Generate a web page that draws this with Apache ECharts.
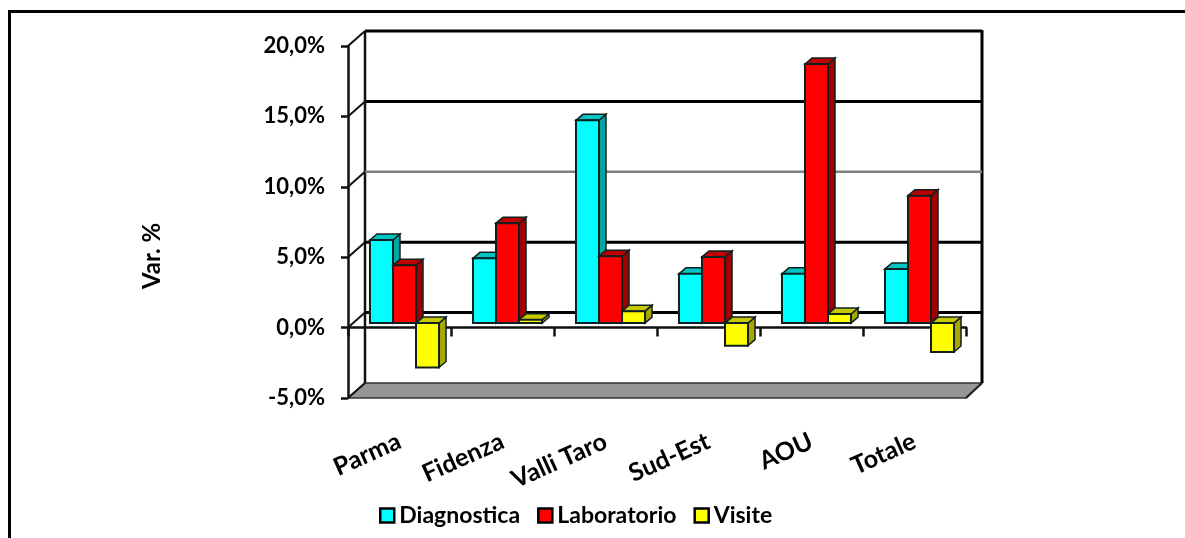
<!DOCTYPE html>
<html>
<head>
<meta charset="utf-8">
<script src="https://cdn.jsdelivr.net/npm/echarts@6/dist/echarts.min.js"></script>
<style>html,body{margin:0;padding:0;background:#fff}#c{width:1185px;height:538px}</style>
</head>
<body>
<div id="c"></div>
<script>
var categories = ['Parma', 'Fidenza', 'Valli Taro', 'Sud-Est', 'AOU', 'Totale'];
var diagnostica = [5.9, 4.6, 14.4, 3.5, 3.5, 3.85];
var laboratorio = [4.1, 7.1, 4.75, 4.7, 18.4, 9.05];
var visite = [-3.15, 0.23, 0.85, -1.6, 0.65, -2.05];
var tickValues = [-5, 0, 5, 10, 15, 20];
var axisName = 'Var. %';

var FONT = 'Lato';
var DEPTH_X = 17, DEPTH_Y = -15;      // wall depth
var PLANE_X = 5, PLANE_Y = -4.5;      // plane of the bars inside the depth
var BAR_DX = 7, BAR_DY = -6;          // bar depth
var BAR_SHARE = 0.2235;

function wallItem(params, api) {
  var v = api.value(1);
  var cs = params.coordSys;
  var left = cs.x, right = cs.x + cs.width;
  var y = api.coord([0, v])[1];
  var kids = [];
  var lineStyle = function (c, w) { return { stroke: c, lineWidth: w, fill: null }; };
  if (v === -5) {
    kids.push({ type: 'polygon', shape: { points: [[left, y], [right, y], [right + DEPTH_X - 1, y + DEPTH_Y], [left + DEPTH_X, y + DEPTH_Y]] },
      style: { fill: '#969696', stroke: '#333', lineWidth: 1.5 } });
    kids.push({ type: 'line', shape: { x1: left + DEPTH_X, y1: y + DEPTH_Y, x2: left + DEPTH_X, y2: cs.y + DEPTH_Y }, style: lineStyle('#111', 2.5) });
    kids.push({ type: 'line', shape: { x1: right + DEPTH_X - 1, y1: y + DEPTH_Y, x2: right + DEPTH_X - 1, y2: cs.y + DEPTH_Y - 1 }, style: lineStyle('#000', 3) });
    kids.push({ type: 'line', shape: { x1: right, y1: y, x2: right + DEPTH_X - 1, y2: y + DEPTH_Y }, style: lineStyle('#222', 2) });
  } else {
    var c = v === 10 ? '#808080' : '#000';
    kids.push({ type: 'line', shape: { x1: left + DEPTH_X, y1: y + DEPTH_Y, x2: right + DEPTH_X - 1, y2: y + DEPTH_Y }, style: lineStyle(c, v === 10 ? 2.5 : 3) });
  }
  kids.push({ type: 'line', shape: { x1: left, y1: y, x2: left + DEPTH_X, y2: y + DEPTH_Y }, style: lineStyle('#111', 2) });
  return { type: 'group', children: kids };
}

function barItem(slot, front, side, top) {
  return function (params, api) {
    var v = api.value(1);
    var c = api.coord([api.value(0), v]);
    var z = api.coord([api.value(0), 0]);
    var band = api.size([1, 0])[0];
    var w = band * BAR_SHARE;
    var x0 = c[0] + PLANE_X + (slot - 1.5) * w, x1 = x0 + w;
    var yT = Math.min(c[1], z[1]) + PLANE_Y, yB = Math.max(c[1], z[1]) + PLANE_Y;
    var st = function (f) { return { fill: f, stroke: '#102020', lineWidth: 1.5 }; };
    return { type: 'group', children: [
      { type: 'polygon', shape: { points: [[x1, yT], [x1 + BAR_DX, yT + BAR_DY], [x1 + BAR_DX, yB + BAR_DY], [x1, yB]] }, style: st(side) },
      { type: 'polygon', shape: { points: [[x0, yT], [x0 + BAR_DX, yT + BAR_DY], [x1 + BAR_DX, yT + BAR_DY], [x1, yT]] }, style: st(top) },
      { type: 'rect', shape: { x: x0, y: yT, width: w, height: yB - yT }, style: { fill: front, stroke: '#102020', lineWidth: 2 } }
    ] };
  };
}

function pairs(values) { return values.map(function (v, i) { return [i, v]; }); }

function barSeries(name, values, slot, front, side, top) {
  return { name: name, type: 'custom', z: 3, clip: false, silent: true,
    renderItem: barItem(slot, front, side, top),
    encode: { x: 0, y: 1 },
    itemStyle: { color: front, borderColor: '#000', borderWidth: 2.5 },
    data: pairs(values) };
}

var chart = echarts.init(document.getElementById('c'), null, { renderer: 'canvas' });
chart.setOption({
  animation: false,
  backgroundColor: '#fff',
  grid: { left: 348, right: 219, top: 46, bottom: 140, containLabel: false },
  legend: {
    left: 374, top: 499, itemWidth: 14, itemHeight: 14, itemGap: 17, icon: 'rect',
    itemStyle: { borderColor: '#000', borderWidth: 2.5 },
    data: ['Diagnostica', 'Laboratorio', 'Visite'],
    textStyle: { fontFamily: FONT, fontWeight: 'bold', fontSize: 23, color: '#000', padding: [0, 0, 0, 0] }
  },
  xAxis: {
    type: 'category', data: categories, boundaryGap: true,
    axisLine: { onZero: true, lineStyle: { color: '#111', width: 2.5 } },
    axisTick: { show: true, inside: false, length: 9, alignWithLabel: false, lineStyle: { color: '#111', width: 2.5 } },
    axisLabel: { interval: 0, rotate: 24, margin: 42, fontFamily: FONT, fontWeight: 'bold', fontSize: 25, color: '#000' },
    splitLine: { show: false }
  },
  yAxis: {
    type: 'value', min: -5, max: 20, interval: 5,
    axisLine: { show: true, onZero: false, lineStyle: { color: '#111', width: 2.5 } },
    axisTick: { show: true, length: 7, lineStyle: { color: '#111', width: 2.5 } },
    axisLabel: { margin: 23, padding: [2, 0, 0, 0], fontFamily: FONT, fontWeight: 'bold', fontSize: 22, color: '#000',
      formatter: function (v) { return v.toFixed(1).replace('.', ',') + '%'; } },
    splitLine: { show: false }
  },
  graphic: [
    { type: 'polyline', silent: true, z: 10, shape: { points: [[9.5, 538], [9.5, 11.5], [1185, 11.5]] }, style: { stroke: '#000', lineWidth: 3, fill: null } },
    { type: 'text', silent: true, x: 152, y: 256, rotation: Math.PI / 2, style: { text: axisName, fontFamily: FONT, fontWeight: 'bold', fontSize: 24, fill: '#000', align: 'center', verticalAlign: 'middle' } }
  ],
  series: [
    { name: 'walls', type: 'custom', z: 1, clip: false, silent: true, renderItem: wallItem, encode: { x: 0, y: 1 },
      data: tickValues.map(function (v) { return [0, v]; }) },
    barSeries('Diagnostica', diagnostica, 0, '#00ffff', '#00a6a6', '#00c4c4'),
    barSeries('Laboratorio', laboratorio, 1, '#ff0000', '#a00000', '#c00000'),
    barSeries('Visite', visite, 2, '#ffff00', '#a8a800', '#c8c800')
  ]
});
</script>
</body>
</html>
